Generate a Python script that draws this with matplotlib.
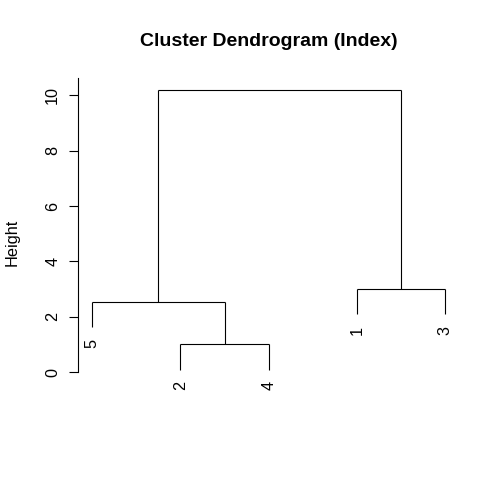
import numpy as np
from matplotlib import pyplot as plt

# hclust-style merge table (negative = leaf, positive = earlier merge)
leaf_labels = ["1", "2", "3", "4", "5"]
merge = [[-2, -4], [-5, 1], [-1, -3], [2, 3]]
heights = [1.01, 2.53, 3.00, 10.18]
order = [5, 2, 4, 1, 3]
yticks = [0, 2, 4, 6, 8, 10]

plt.rcParams['font.family'] = ['Liberation Sans', 'DejaVu Sans']

W, H = 500, 500
fig = plt.figure(figsize=[5, 5], dpi=100)
fig.patch.set_facecolor('white')

# plot region in pixels (R-like layout)
left, right, top, bottom = 78, 459.4, 78, 388
ax = fig.add_axes([left / W, 1 - bottom / H, (right - left) / W, (bottom - top) / H])

n = len(order)
xpos = {leaf: i + 1 for i, leaf in enumerate(order)}
hang = 0.1 * (max(heights) - min(heights))

node_x = {}
node_y = {}
lw = 0.8
for k, (a, b) in enumerate(merge, 1):
    h = heights[k - 1]
    ends = []
    for m in (a, b):
        if m < 0:
            x = xpos[-m]
            y0 = h - hang
            ax.plot([x, x], [y0, h], color="k", lw=lw, solid_capstyle="butt")
            ax.annotate(leaf_labels[-m - 1], (x, y0), xytext=(0, -8),
                        textcoords="offset points", rotation=90,
                        ha="center", va="top", fontsize=11.7)
        else:
            x = node_x[m]
            ax.plot([x, x], [node_y[m], h], color="k", lw=lw, solid_capstyle="butt")
        ends.append(x)
    ax.plot(ends, [h, h], color="k", lw=lw, solid_capstyle="butt")
    node_x[k] = np.mean(ends)
    node_y[k] = h

ytop = 10.62
ax.set_xlim(1 - 0.04 * (n - 1), n + 0.04 * (n - 1))
ax.set_ylim(ytop - (bottom - top) / 27.7, ytop)

ax.spines['top'].set_visible(False)
ax.spines['right'].set_visible(False)
ax.spines['bottom'].set_visible(False)
ax.spines['left'].set_bounds(0, ytop)
ax.spines['left'].set_linewidth(lw)
ax.tick_params(axis='x', which='both', bottom=False, labelbottom=False)
ax.set_yticks(yticks)
ax.set_yticklabels([str(t) for t in yticks])
ax.tick_params(axis='y', length=6.3, width=lw, pad=6.5, labelsize=11.7)
plt.setp(ax.get_yticklabels(), rotation=90, va='center')

# title is centred over the plot region, as R does
fig.text((left + right) / 2 / W, 1 - 41 / H, "Cluster Dendrogram (Index)",
         ha="center", va="center", fontsize=14, fontweight="bold")
fig.text(12 / W, 1 - 242 / H, "Height", rotation=90, ha="center", va="center",
         fontsize=11.7)

fig.savefig("out.png", dpi=100)
